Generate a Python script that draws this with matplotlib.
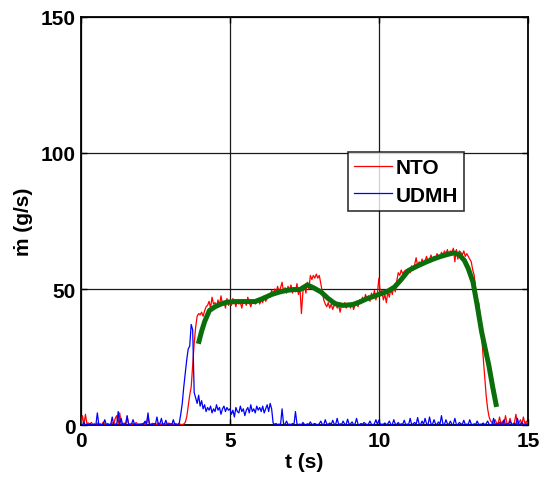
import numpy as np
import matplotlib
matplotlib.use("Agg")
import matplotlib.pyplot as plt
from matplotlib.lines import Line2D

# Sampling time base (s), 20 samples per second
t = np.linspace(0.0, 15.0, 301)

# NTO mass flow rate (g/s), one row per second
nto = [
    0.5, 3.5, 0.2, 4.0, 0.5, 0.8, 0.3, 1.0, 0.2, 0.5, 0.1, 0.8, 0.3, 0.5, 0.2, 1.2, 0.4, 0.2, 0.6, 0.3,
    0.4, 0.9, 0.3, 2.5, 3.5, 0.4, 4.5, 0.6, 0.3, 0.8, 0.2, 3.2, 0.5, 0.4, 0.2, 0.6, 0.3, 1.0, 0.4, 0.2,
    0.5, 0.3, 0.8, 0.2, 0.6, 3.0, 0.4, 0.2, 0.7, 0.3, 0.5, 0.2, 0.9, 0.3, 0.4, 0.6, 0.2, 0.5, 0.3, 0.8,
    0.2, 0.5, 0.3, 0.6, 0.4, 0.2, 0.5, 0.3, 0.2, 0.4, 1.0, 3.0, 7.0, 11.0, 14.0, 22.0, 30.0, 36.0, 40.0, 41.0,
    40.5, 41.5, 40.0, 42.0, 43.5, 44.0, 45.5, 43.0, 47.0, 44.5, 45.0, 43.5, 46.0, 44.0, 47.5, 44.5, 45.5, 43.0, 46.5, 44.0,
    45.0, 44.0, 46.5, 45.5, 43.5, 46.0, 44.5, 45.0, 43.0, 46.0, 45.5, 44.0, 47.0, 45.0, 43.5, 45.5, 46.0, 44.5, 45.0, 46.5,
    44.5, 46.0, 45.0, 47.5, 45.5, 46.5, 48.0, 47.0, 49.5, 48.0, 50.0, 48.5, 51.0, 49.0, 50.5, 52.5, 49.0, 50.5, 48.5, 51.0,
    49.5, 51.5, 48.5, 50.5, 49.0, 52.0, 48.0, 50.5, 41.0, 49.0, 51.0, 48.5, 52.5, 50.0, 55.0, 53.5, 55.0, 54.0, 55.5, 54.0,
    55.0, 52.0, 49.0, 46.0, 44.5, 43.5, 45.0, 43.0, 44.5, 42.5, 44.0, 45.5, 43.0, 44.0, 41.5, 44.5, 43.5, 45.0, 43.0, 44.0,
    44.5, 43.0, 45.0, 42.5, 44.0, 45.5, 43.5, 46.0, 45.0, 47.0, 45.5, 48.0, 46.5, 47.5, 45.5, 48.5, 47.0, 49.5, 46.0, 48.5,
    54.0, 48.0, 49.5, 46.0, 48.0, 45.0, 49.0, 47.0, 50.0, 48.0, 51.0, 49.0, 53.0, 56.0, 55.0, 57.0, 55.5, 56.5, 57.0, 56.0,
    57.5, 56.0, 58.5, 57.0, 59.0, 61.5, 58.5, 60.0, 59.0, 61.0, 59.5, 60.5, 62.0, 60.0, 61.0, 62.5, 60.5, 62.0, 61.0, 63.0,
    62.0, 61.5, 63.5, 62.5, 64.0, 63.0, 64.5, 62.5, 64.0, 63.5, 65.0, 60.0, 64.5, 61.0, 64.0, 63.5, 62.5, 64.0, 62.0, 63.0,
    62.0, 61.0, 60.0, 57.0, 55.0, 50.0, 46.0, 45.0, 40.0, 33.0, 25.0, 18.0, 11.0, 6.0, 3.0, 1.5, 1.0, 0.5, 2.0, 0.8,
    0.5, 3.0, 0.3, 1.5, 0.4, 3.5, 0.6, 0.2, 2.5, 0.5, 0.3, 1.0, 4.0, 0.4, 0.8, 2.0, 0.3, 3.0, 0.5, 1.5,
    0.5,
]

# UDMH mass flow rate (g/s), one row per second
udmh = [
    0.2, 0.0, 1.0, 0.1, 0.3, 0.0, 0.5, 0.2, 0.1, 0.4, 0.0, 4.5, 0.2, 0.3, 0.0, 0.5, 2.0, 0.2, 0.4, 0.0,
    0.3, 3.0, 0.1, 0.5, 0.2, 5.0, 0.3, 2.5, 0.1, 0.4, 0.2, 3.5, 0.0, 0.3, 0.5, 2.0, 0.1, 0.3, 0.2, 0.4,
    0.1, 0.5, 0.2, 1.5, 0.3, 4.5, 0.1, 0.4, 0.2, 0.6, 0.3, 3.0, 0.2, 0.5, 2.5, 0.1, 0.4, 1.8, 0.2, 0.3,
    0.5, 0.2, 2.0, 0.3, 0.4, 0.2, 0.8, 4.0, 8.0, 14.0, 19.0, 24.0, 28.0, 29.0, 37.0, 35.0, 12.0, 10.0, 8.0, 11.0,
    7.0, 9.0, 6.0, 7.5, 5.0, 6.5, 5.5, 7.0, 4.5, 6.0, 5.0, 7.5, 5.5, 6.5, 4.0, 6.0, 7.0, 5.0, 6.5, 5.5,
    6.0, 4.0, 5.5, 3.0, 6.5, 5.0, 4.5, 7.0, 5.0, 6.0, 3.5, 5.5, 6.5, 4.5, 7.5, 5.0, 6.0, 4.5, 7.0, 5.5,
    6.5, 5.0, 7.0, 4.5, 6.0, 7.5, 5.0, 8.0, 6.0, 0.8, 0.3, 0.6, 0.2, 0.4, 0.3, 6.0, 0.5, 0.3, 1.5, 0.2,
    0.4, 0.2, 0.6, 0.3, 5.0, 0.5, 0.2, 0.4, 0.1, 1.0, 0.3, 0.2, 0.5, 0.3, 1.2, 0.2, 0.4, 0.6, 0.3, 0.2,
    0.5, 1.5, 0.3, 0.2, 2.0, 0.4, 0.3, 0.8, 0.2, 1.8, 0.4, 0.3, 2.5, 0.2, 0.5, 0.3, 1.5, 0.4, 0.2, 2.2,
    0.3, 0.5, 1.2, 0.2, 0.4, 2.5, 0.3, 0.2, 0.6, 0.3, 1.0, 0.5, 0.2, 0.4, 1.5, 0.3, 0.2, 0.5, 2.0, 0.3,
    1.8, 0.2, 0.4, 0.3, 0.8, 0.2, 0.5, 1.5, 0.3, 0.2, 2.0, 0.4, 0.3, 1.0, 0.2, 0.5, 0.3, 1.8, 0.2, 0.4,
    0.3, 2.5, 0.2, 0.5, 1.0, 0.3, 2.8, 0.4, 0.2, 1.5, 0.3, 2.5, 0.5, 0.2, 3.0, 0.4, 0.3, 2.0, 0.5, 0.2,
    1.2, 0.3, 3.5, 0.4, 0.2, 2.0, 0.5, 0.3, 1.5, 0.2, 0.4, 2.5, 0.3, 0.2, 1.0, 0.5, 0.3, 1.8, 0.2, 0.4,
    0.3, 2.0, 0.4, 0.2, 0.5, 0.3, 1.5, 0.2, 0.4, 0.3, 0.8, 0.2, 0.5, 1.5, 0.3, 0.2, 0.4, 2.5, 0.3, 0.5,
    0.2, 1.0, 0.4, 0.3, 2.0, 0.2, 0.5, 0.3, 1.5, 0.4, 0.2, 0.6, 0.3, 2.5, 0.2, 0.4, 1.0, 0.3, 0.2, 0.5,
    0.3,
]

# Smoothed NTO trend
fit_t = [3.94, 4.05, 4.15, 4.31, 4.5, 4.7, 4.9, 5.2, 5.5, 5.84, 6.1, 6.4, 6.66, 6.9, 7.13, 7.35,
         7.6, 7.8, 8.06, 8.3, 8.53, 8.8, 9.12, 9.35, 9.59, 9.8, 10.05, 10.3, 10.52, 10.75, 10.99,
         11.3, 11.58, 11.8, 12.05, 12.3, 12.52, 12.7, 12.87, 13.0, 13.16, 13.3, 13.45, 13.57, 13.69,
         13.82, 13.95]
fit_y = [29.9, 34.5, 38.0, 42.1, 43.5, 44.5, 45.2, 45.4, 45.4, 45.4, 46.5, 48.0, 48.9, 49.5, 49.8, 49.8,
         51.5, 50.5, 48.9, 46.5, 44.6, 44.0, 44.3, 45.2, 46.4, 47.2, 48.2, 49.2, 50.7, 53.5, 56.8,
         58.5, 59.9, 60.9, 61.9, 62.7, 63.3, 62.6, 60.5, 57.5, 52.5, 44.0, 34.2, 28.0, 22.0,
         14.0, 6.7]

plt.rcParams["font.family"] = ["Liberation Sans", "DejaVu Sans"]
plt.rcParams["font.weight"] = "bold"

fig = plt.figure(figsize=(5.47, 4.81), dpi=100)
ax = fig.add_axes([0.148, 0.114, 0.817, 0.849])

ax.plot(t, nto, color="#ff0000", lw=0.9, zorder=3)
ax.plot(t, udmh, color="#0000ff", lw=0.9, zorder=3)
ax.plot(fit_t, fit_y, color="#0a6e0a", lw=3.6, zorder=4, solid_capstyle="butt")

ax.set_xlim(0, 15)
ax.set_ylim(0, 150)
ax.set_xticks([0, 5, 10, 15])
ax.set_yticks([0, 50, 100, 150])
ax.grid(True, color="#1a1a1a", lw=0.9, ls="-")
ax.set_axisbelow(True)
ax.tick_params(direction="in", length=4, width=1, top=True, right=True,
               labelsize=15, pad=4)
for lab in ax.get_xticklabels() + ax.get_yticklabels():
    lab.set_fontweight("bold")
for s in ax.spines.values():
    s.set_linewidth(1.3)

ax.set_xlabel("t (s)", fontsize=15, fontweight="bold", labelpad=2)
ax.set_ylabel("ṁ (g/s)", fontsize=15, fontweight="bold", labelpad=5)

handles = [Line2D([], [], color="#ff0000", lw=0.9),
           Line2D([], [], color="#0000ff", lw=0.9)]
leg = ax.legend(handles, ["NTO", "UDMH"], loc="upper left",
                bbox_to_anchor=(0.597, 0.669), fontsize=15, frameon=True,
                fancybox=False, handlelength=1.8, handletextpad=0.2,
                borderpad=0.3, labelspacing=0.4, borderaxespad=0)
leg.get_frame().set_edgecolor("black")
leg.get_frame().set_linewidth(1.2)
for txt in leg.get_texts():
    txt.set_fontweight("bold")

fig.savefig("out.png", dpi=100)
